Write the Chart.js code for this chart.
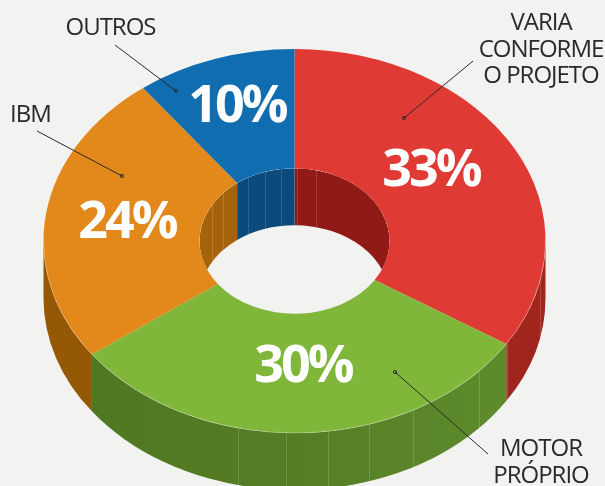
<!DOCTYPE html>
<html><head><meta charset="utf-8">
<style>html,body{margin:0;padding:0;background:#f2f2f1}canvas{display:block}</style>
<script src="https://cdn.jsdelivr.net/npm/chart.js@4"></script>
</head><body><canvas id="c" width="605" height="486"></canvas>
<script>
const categories = ['VARIA CONFORME O PROJETO', 'MOTOR PRÓPRIO', 'IBM', 'OUTROS'];
const values = [33, 30, 24, 10];
const topColors = ['#df3a33', '#80b73a', '#e3891b', '#0f6db0'];
const outerWallColors = ['#a0251c', '#567f26', '#955804', '#0a4a7c'];
const innerWallColors = ['#8f1a16', '#567f26', '#a5640c', '#0a4a7c'];

const TILT = 0.765, CENTER_Y = 241, DEPTH = 57;
const outerFacets = [238, 286, 328, 369, 413, 479, 507, 540];
const innerFacets = [212, 223, 248, 265, 281, 297, 316];
const percentPlacement = [[431, 186], [303, 382], [127, 238], [237, 122]];
const nameLines = [
  [['VARIA', 541, 30], ['CONFORME', 541, 57], ['O PROJETO', 541, 83]],
  [['MOTOR', 541, 456], ['PRÓPRIO', 541, 483]],
  [['IBM', 30.5, 122]],
  [['OUTROS', 110.5, 35]]
];
const leaders = [[473, 61, 404, 118], [488, 454, 395, 372], [37, 131, 122, 176], [115, 45, 176, 91]];

function spans(a, b, lo, hi) {
  const out = [];
  for (const k of [-2 * Math.PI, 0, 2 * Math.PI]) {
    const s = Math.max(a + k, lo), e = Math.min(b + k, hi);
    if (e > s) out.push([s, e]);
  }
  return out;
}

const pie3d = {
  id: 'pie3d',
  beforeDatasetsDraw(chart) {
    const ctx = chart.ctx, arcs = chart.getDatasetMeta(0).data;
    const cx = arcs[0].x, rx = arcs[0].outerRadius, ry = rx * TILT;
    const hx = arcs[0].innerRadius, hy = hx * TILT;

    ctx.save();
    // outer wall
    arcs.forEach((arc, i) => {
      spans(arc.startAngle, arc.endAngle, 0, Math.PI).forEach(([s, e]) => {
        ctx.beginPath();
        ctx.ellipse(cx, CENTER_Y, rx, ry, 0, s, e);
        ctx.ellipse(cx, CENTER_Y + DEPTH, rx, ry, 0, e, s, true);
        ctx.closePath();
        if (i === 1) {
          const g = ctx.createLinearGradient(cx - rx, 0, cx + rx, 0);
          g.addColorStop(0, '#4f7722');
          g.addColorStop(0.45, '#537c24');
          g.addColorStop(0.9, '#5d8b2b');
          ctx.fillStyle = g;
        } else ctx.fillStyle = outerWallColors[i];
        ctx.fill();
      });
    });
    outerFacets.forEach(x => {
      const y = CENTER_Y + ry * Math.sqrt(1 - ((x - cx) / rx) ** 2);
      ctx.beginPath();
      ctx.moveTo(x + 0.5, y);
      ctx.lineTo(x + 0.5, y + DEPTH);
      ctx.strokeStyle = 'rgba(255,255,255,0.16)';
      ctx.lineWidth = 1;
      ctx.stroke();
    });
    // inner wall, seen through the hole
    ctx.save();
    ctx.beginPath();
    ctx.ellipse(cx, CENTER_Y, hx, hy, 0, 0, 2 * Math.PI);
    ctx.clip();
    arcs.forEach((arc, i) => {
      spans(arc.startAngle, arc.endAngle, Math.PI, 2 * Math.PI).forEach(([s, e]) => {
        ctx.beginPath();
        ctx.ellipse(cx, CENTER_Y, hx, hy, 0, s, e);
        ctx.ellipse(cx, CENTER_Y + DEPTH, hx, hy, 0, e, s, true);
        ctx.closePath();
        ctx.fillStyle = innerWallColors[i];
        ctx.fill();
      });
    });
    innerFacets.forEach(x => {
      const h = Math.sqrt(1 - ((x - cx) / hx) ** 2);
      ctx.beginPath();
      ctx.moveTo(x + 0.5, CENTER_Y - hy * h);
      ctx.lineTo(x + 0.5, CENTER_Y - hy * h + DEPTH);
      ctx.strokeStyle = 'rgba(255,255,255,0.15)';
      ctx.lineWidth = 1;
      ctx.stroke();
    });
    ctx.restore();
    ctx.restore();

    // the library's own arcs, squashed to the tilted plane
    ctx.save();
    ctx.transform(1, 0, 0, TILT, 0, CENTER_Y - arcs[0].y * TILT);
  },
  afterDatasetsDraw(chart) {
    const ctx = chart.ctx, arcs = chart.getDatasetMeta(0).data;
    ctx.restore();
    const cx = arcs[0].x, rx = arcs[0].outerRadius, ry = rx * TILT;

    ctx.save();
    // light rim along the front edge
    ctx.beginPath();
    ctx.ellipse(cx, CENTER_Y, rx, ry, 0, 0, Math.PI);
    ctx.strokeStyle = 'rgba(255,255,255,0.35)';
    ctx.lineWidth = 0.8;
    ctx.stroke();

    // leader lines
    leaders.forEach(([x1, y1, x2, y2]) => {
      ctx.beginPath();
      ctx.moveTo(x1, y1);
      ctx.lineTo(x2, y2);
      ctx.strokeStyle = '#2b2a29';
      ctx.lineWidth = 1;
      ctx.stroke();
      ctx.beginPath();
      ctx.arc(x2, y2, 1.6, 0, 2 * Math.PI);
      ctx.stroke();
    });

    // percent labels
    ctx.textAlign = 'center';
    ctx.textBaseline = 'alphabetic';
    ctx.fillStyle = '#ffffff';
    ctx.font = '700 52px "Open Sans"';
    ctx.letterSpacing = '-3px';
    values.forEach((v, i) => {
      const [x, y] = percentPlacement[i];
      ctx.fillText(v + '%', x, y);
    });

    // category labels
    ctx.fillStyle = '#2b2a29';
    ctx.font = '400 24px "Open Sans"';
    ctx.letterSpacing = '-1px';
    nameLines.forEach(group => group.forEach(([t, x, y]) => ctx.fillText(t, x, y)));
    ctx.restore();
  }
};

new Chart(document.getElementById('c'), {
  type: 'doughnut',
  data: {
    labels: categories,
    datasets: [{ data: values, backgroundColor: topColors, borderWidth: 0, clip: false }]
  },
  options: {
    responsive: false,
    animation: false,
    radius: 251,
    cutout: '37.85%',
    layout: { padding: { right: 16 } },
    plugins: { legend: { display: false }, tooltip: { enabled: false } }
  },
  plugins: [pie3d]
});
</script></body></html>
